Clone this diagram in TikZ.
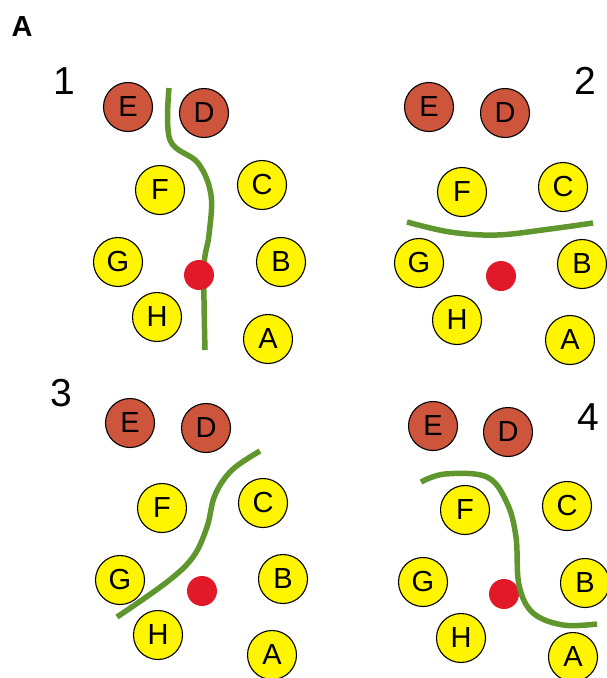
\documentclass[tikz,border=0pt]{standalone}
\usepackage{fontspec}
\setmainfont{Liberation Sans}
\definecolor{brownball}{RGB}{205,85,60}
\definecolor{yellowball}{RGB}{255,245,0}
\definecolor{redball}{RGB}{225,25,40}
\definecolor{cutgreen}{RGB}{95,150,45}
\tikzset{
  ball/.style={circle, draw=black, line width=1.1pt, minimum size=49pt, inner sep=0pt, font=\fontsize{29}{29}\selectfont},
  yball/.style={ball, fill=yellowball},
  bball/.style={ball, fill=brownball},
  rdot/.style={circle, fill=redball, minimum size=30pt, inner sep=0pt},
  cut/.style={draw=cutgreen, line width=5.5pt},
  num/.style={font=\fontsize{39}{39}\selectfont},
}
\begin{document}
\begin{tikzpicture}[x=1pt,y=-1pt]
\useasboundingbox (0,0) rectangle (607,678);
\node[font=\bfseries\fontsize{29}{29}\selectfont] (lblA) at (22,27) {A};
% panel 1
\node[num] (n1) at (64,81) {1};
\draw[cut] plot[smooth, tension=0.6] coordinates {(169,88) (170,140) (198,163) (211,195) (209,235) (204,268) (205,350)};
\node[bball] (E1) at (128,107) {E};
\node[bball] (D1) at (204,113) {D};
\node[yball] (F1) at (160,190) {F};
\node[yball] (C1) at (262,185) {C};
\node[yball] (G1) at (118,262) {G};
\node[yball] (B1) at (281,262) {B};
\node[yball] (H1) at (157,317) {H};
\node[yball] (A1) at (268,339) {A};
\node[rdot] (R1) at (199,275) {};
% panel 2
\node[num] (n2) at (585,81) {2};
\node[bball] (E2) at (429,107) {E};
\node[bball] (D2) at (505,113) {D};
\node[yball] (F2) at (462,192) {F};
\node[yball] (C2) at (563,187) {C};
\node[yball] (G2) at (419,263) {G};
\node[yball] (B2) at (582,264) {B};
\node[yball] (H2) at (457,320) {H};
\node[yball] (A2) at (570,340) {A};
\node[rdot] (R2) at (501,276) {};
\draw[cut] plot[smooth, tension=0.6] coordinates {(407,222) (450,232) (497,235) (550,229) (593,223)};
% panel 3
\node[num] (n3) at (61,393) {3};
\node[bball] (E3) at (130,423) {E};
\node[bball] (D3) at (206,428) {D};
\node[yball] (F3) at (162,508) {F};
\node[yball] (C3) at (263,503) {C};
\node[yball] (G3) at (120,580) {G};
\node[yball] (B3) at (283,579) {B};
\node[yball] (H3) at (158,635) {H};
\node[yball] (A3) at (272,655) {A};
\node[rdot] (R3) at (202,591) {};
\draw[cut] plot[smooth, tension=0.6] coordinates {(260,451) (232,470) (215,495) (207,527) (193,557) (167,582) (117,617)};
% panel 4
\node[num] (n4) at (588,417) {4};
\node[bball] (E4) at (433,426) {E};
\node[bball] (D4) at (508,432) {D};
\node[yball] (F4) at (465,510) {F};
\node[yball] (C4) at (567,506) {C};
\node[yball] (G4) at (423,582) {G};
\node[yball] (B4) at (585,583) {B};
\node[yball] (H4) at (461,638) {H};
\node[yball] (A4) at (573,657) {A};
\node[rdot] (R4) at (504,594) {};
\draw[cut] plot[smooth, tension=0.6] coordinates {(421,482) (445,474) (487,477) (507,503) (516,537) (519,585) (533,613) (563,625) (597,624)};
\end{tikzpicture}
\end{document}
